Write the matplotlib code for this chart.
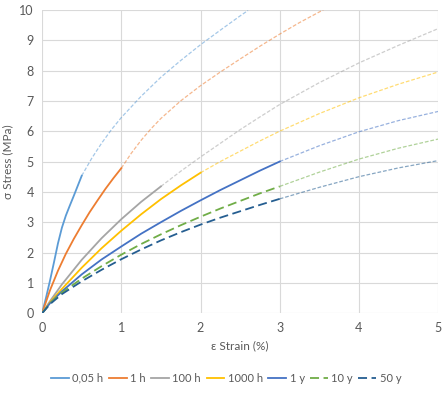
import numpy as np
import matplotlib
matplotlib.use("Agg")
import matplotlib.pyplot as plt
from matplotlib.lines import Line2D

# ---------------------------------------------------------------
# Donnees (deformation %, contrainte MPa)
# ---------------------------------------------------------------
names = ["0,05 h", "1 h", "100 h", "1000 h", "1 y", "10 y", "50 y"]
colors = ["#5B9BD5", "#ED7D31", "#A5A5A5", "#FFC000", "#4472C4", "#70AD47", "#255E91"]

# partie mesuree (trait plein / tirets epais)
meas_x = [
    [0, 0.05, 0.1, 0.15, 0.2, 0.25, 0.3, 0.35, 0.4, 0.45, 0.5],
    [0, 0.1, 0.2, 0.3, 0.4, 0.5, 0.6, 0.7, 0.8, 0.9, 1.0],
    [0, 0.1, 0.25, 0.5, 0.75, 1.0, 1.25, 1.5],
    [0, 0.1, 0.25, 0.5, 0.75, 1.0, 1.25, 1.5, 1.75, 2.0],
    [0, 0.1, 0.25, 0.5, 0.75, 1.0, 1.25, 1.5, 1.75, 2.0, 2.25, 2.5, 2.75, 3.0],
    [0, 0.1, 0.25, 0.5, 0.75, 1.0, 1.25, 1.5, 1.75, 2.0, 2.25, 2.5, 2.75, 3.0],
    [0, 0.1, 0.25, 0.5, 0.75, 1.0, 1.25, 1.5, 1.75, 2.0, 2.25, 2.5, 2.75, 3.0],
]
meas_y = [
    [0, 0.52, 1.08, 1.68, 2.3, 2.82, 3.22, 3.55, 3.87, 4.2, 4.53],
    [0, 0.76, 1.4, 1.96, 2.45, 2.9, 3.33, 3.72, 4.1, 4.45, 4.78],
    [0, 0.4, 0.95, 1.76, 2.47, 3.1, 3.67, 4.18],
    [0, 0.36, 0.8, 1.5, 2.14, 2.72, 3.26, 3.76, 4.21, 4.63],
    [0, 0.33, 0.72, 1.28, 1.77, 2.2, 2.62, 3.0, 3.37, 3.72, 4.06, 4.38, 4.7, 5.0],
    [0, 0.32, 0.68, 1.14, 1.55, 1.93, 2.28, 2.6, 2.9, 3.18, 3.45, 3.7, 3.95, 4.18],
    [0, 0.3, 0.63, 1.05, 1.43, 1.78, 2.1, 2.4, 2.67, 2.92, 3.15, 3.36, 3.57, 3.77],
]

# partie extrapolee (tirets fins, couleur pale)
extra_x = [
    [0.5, 0.625, 0.75, 0.875, 1.0, 1.25, 1.5, 1.75, 2.0, 2.25, 2.5, 2.6],
    [1.0, 1.125, 1.25, 1.375, 1.5, 1.75, 2.0, 2.25, 2.5, 2.75, 3.0, 3.25, 3.55],
    [1.5, 1.75, 2.0, 2.25, 2.5, 2.75, 3.0, 3.5, 4.0, 4.5, 5.0],
    [2.0, 2.25, 2.5, 2.75, 3.0, 3.5, 4.0, 4.5, 5.0],
    [3.0, 3.5, 4.0, 4.5, 5.0],
    [3.0, 3.5, 4.0, 4.5, 5.0],
    [3.0, 3.5, 4.0, 4.5, 5.0],
]
extra_y = [
    [4.53, 5.1, 5.6, 6.05, 6.45, 7.15, 7.78, 8.33, 8.85, 9.33, 9.8, 9.98],
    [4.78, 5.27, 5.7, 6.08, 6.42, 7.0, 7.5, 7.95, 8.38, 8.8, 9.2, 9.58, 10.0],
    [4.18, 4.68, 5.15, 5.6, 6.05, 6.47, 6.88, 7.6, 8.25, 8.83, 9.38],
    [4.63, 5.0, 5.34, 5.68, 6.0, 6.58, 7.1, 7.55, 7.95],
    [5.0, 5.52, 5.98, 6.35, 6.65],
    [4.18, 4.65, 5.08, 5.44, 5.74],
    [3.77, 4.15, 4.5, 4.79, 5.03],
]

dashed_series = ["10 y", "50 y"]
txt = "#595959"

plt.rcParams['font.family'] = ['Lato', 'DejaVu Sans']

fig = plt.figure(figsize=(4.48, 3.93), dpi=100)
ax = fig.add_axes([0.094, 0.203, 0.884, 0.772])

handles = []
for i in range(len(names)):
    ls = (0, (5, 2.5)) if names[i] in dashed_series else "-"
    ax.plot(meas_x[i], meas_y[i], color=colors[i], lw=1.3, ls=ls, zorder=3,
            solid_joinstyle="round")
    ax.plot(extra_x[i], extra_y[i], color=colors[i], lw=0.9, ls=(0, (3, 1.5)),
            alpha=0.55, zorder=2)
    handles.append(Line2D([], [], color=colors[i], lw=1.3, ls=ls))

ax.set_xlim(0, 5)
ax.set_ylim(0, 10)
ax.set_xticks(range(6))
ax.set_yticks(range(11))
ax.grid(True, color="#D9D9D9", lw=0.8)
ax.set_axisbelow(True)
for s in ax.spines.values():
    s.set_visible(False)
ax.tick_params(length=0, labelsize=9, labelcolor=txt, pad=6)

ax.set_xlabel("ε Strain (%)", fontsize=8.5, color=txt, labelpad=5)
ax.set_ylabel("σ Stress (MPa)", fontsize=8.5, color=txt, labelpad=4)

fig.legend(handles, names, loc="center", bbox_to_anchor=(0.505, 0.038), ncol=7,
           frameon=False, fontsize=8, labelcolor=txt, handlelength=1.6,
           handletextpad=0.3, columnspacing=0.5)

fig.savefig("out.png", dpi=100)
